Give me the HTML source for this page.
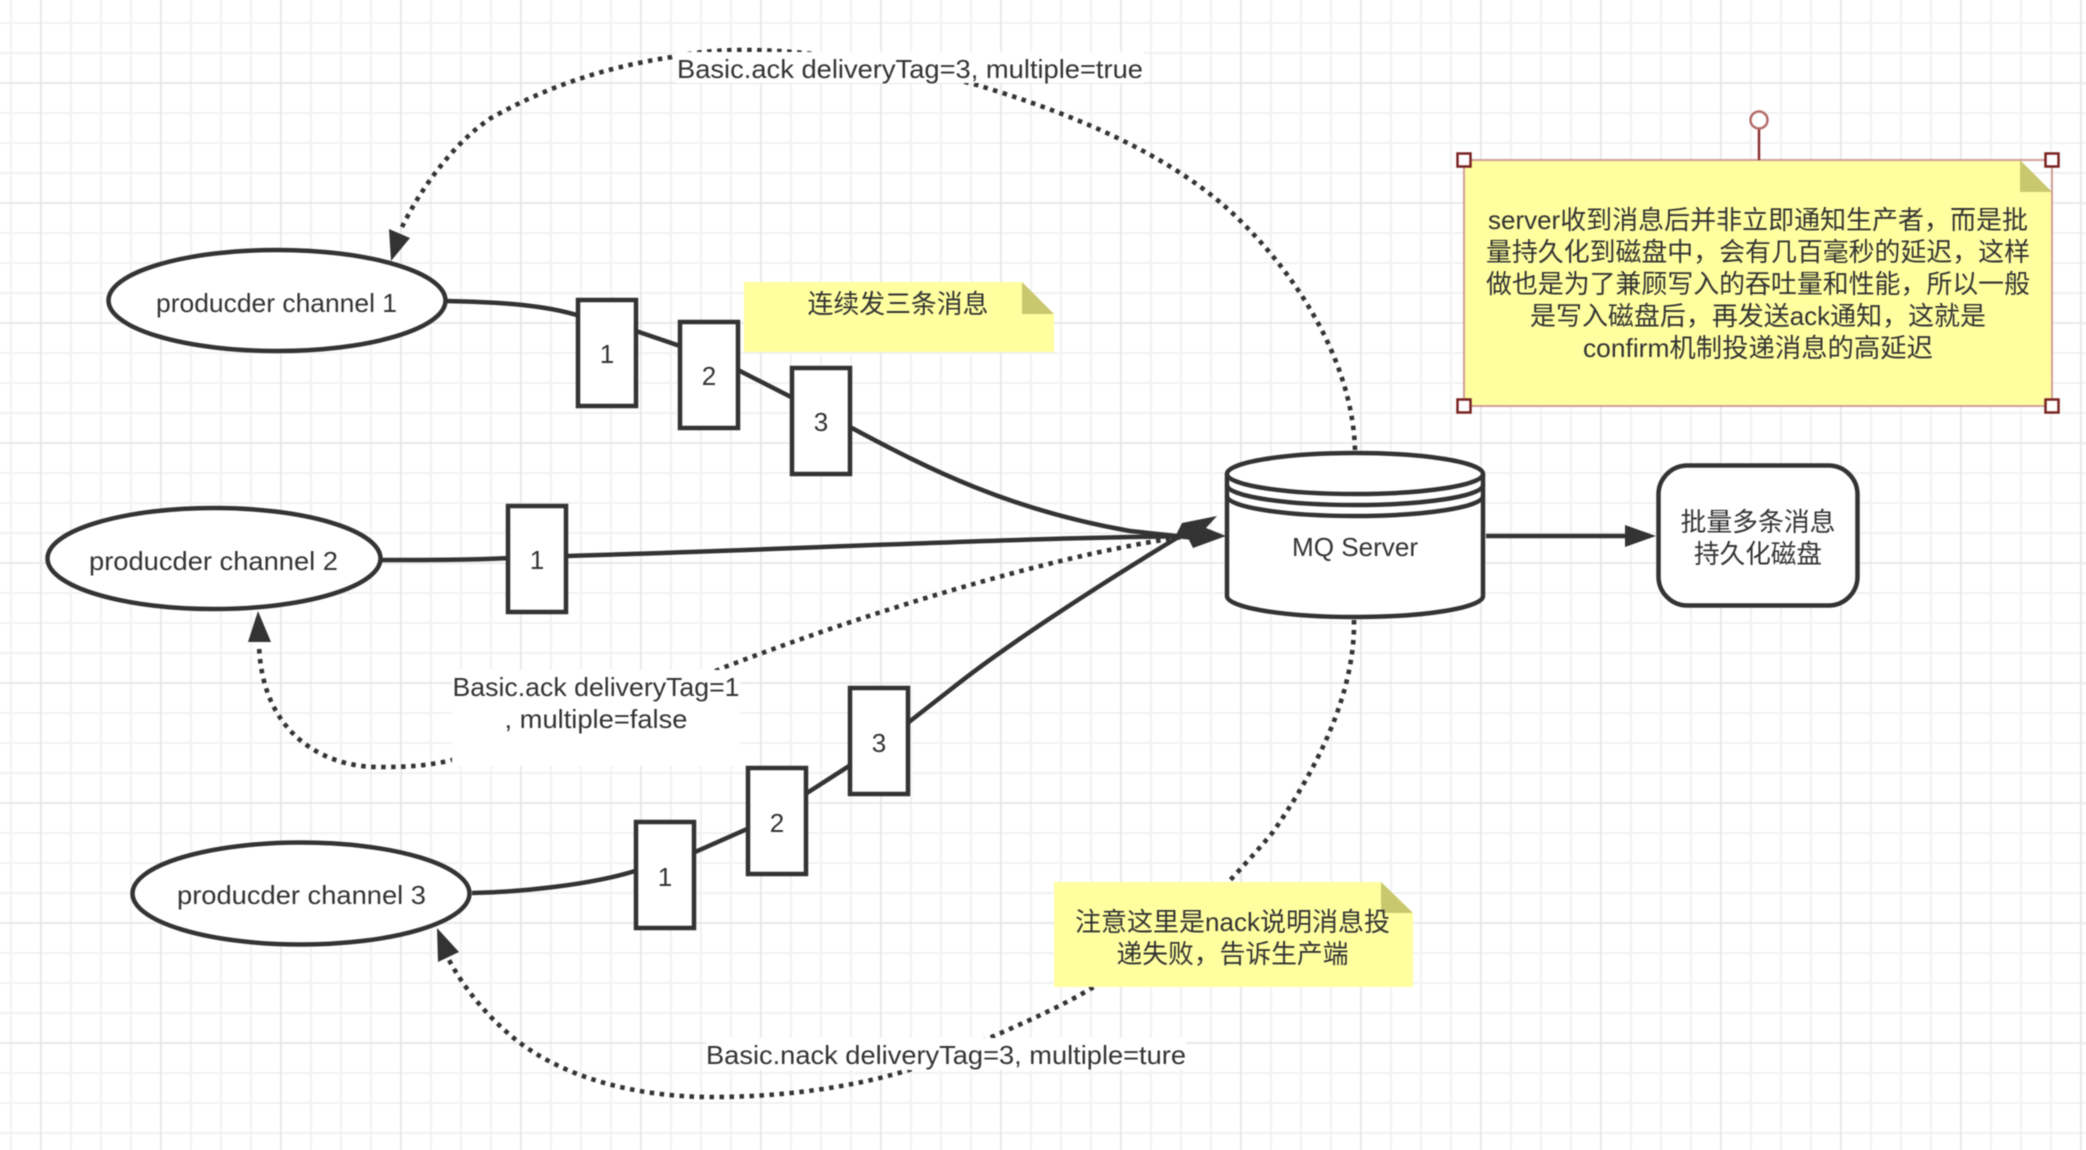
<!DOCTYPE html>
<html lang="zh">
<head>
<meta charset="utf-8">
<title>diagram</title>
<style>
html,body{margin:0;padding:0;background:#fff;width:2086px;height:1150px;overflow:hidden}
svg{display:block;filter:blur(.5px)}
text{font-family:"Liberation Sans","Noto Sans CJK SC",sans-serif;font-size:26px;fill:#333;text-anchor:middle}
.c{font-family:"Noto Sans CJK TC",sans-serif}
.d{fill:none;stroke:#333;stroke-width:4.6;stroke-dasharray:4.5 5.5}
.s{fill:none;stroke:#333;stroke-width:4.5}
.b{fill:#fff;stroke:#333;stroke-width:4.5}
.h{fill:#fff;stroke:#7a2222;stroke-width:2.5}
</style>
</head>
<body>
<svg xmlns="http://www.w3.org/2000/svg" width="2086" height="1150" viewBox="0 0 2086 1150">
<defs>
<pattern id="gm" x="10" y="22" width="30" height="30" patternUnits="userSpaceOnUse">
<path d="M0 0V30M0 0H30" stroke="#f2f2f2" stroke-width="4" fill="none"/>
</pattern>
<pattern id="gM" x="40" y="82" width="120" height="120" patternUnits="userSpaceOnUse">
<path d="M0 0V120M0 0H120" stroke="#e9e9e9" stroke-width="4" fill="none"/>
</pattern>
</defs>
<rect width="2086" height="1150" fill="#fff"/>
<rect width="2086" height="1150" fill="url(#gm)"/>
<rect width="2086" height="1150" fill="url(#gM)"/>

<!-- dotted -->
<path class="d" d="M1355 450C1353 370 1305 280 1229 210C1160 148 1060 110 977 85C900 65 820 50 743 50C715 50 690 53 672 57C600 68 545 88 491 118C455 142 422 186 402 227"/>
<polygon points="391,261 389,229 410,238" fill="#333"/>
<path class="d" d="M1190 536C1080 550 900 600 725 667L600 720L448 761C420 767 400 767 378 767C325 767 262 735 259 645"/>
<polygon points="258,611 248,642 271,642" fill="#333"/>
<path class="d" d="M1354 620C1355 680 1330 750 1273 832C1250 860 1220 890 1190 925C1180 930 1130 965 1092 988C1060 1007 1030 1020 994 1036C965 1048 940 1060 909 1070C850 1088 780 1097 712 1097C640 1097 570 1080 520 1043C490 1020 465 990 449 960"/>
<polygon points="437,928 438,962 459,952" fill="#333"/>

<!-- solid -->
<path class="s" d="M446 301C500 302 545 305 580 316L636 331L680 346C700 355 720 360 738 370L791 397L850 427C930 470 1010 510 1130 531L1195 538"/>
<path class="s" d="M381 560C430 560 470 560 510 558L567 556C780 550 1000 538 1200 536"/>
<path class="s" d="M472 893C520 892 590 885 635 871L695 852L747 829L807 793L849 766L909 722L950 690C1000 650 1090 590 1190 530"/>
<polygon points="1182,523 1217,516 1206,528 1226,536 1193,548 1186,534 1175,537" fill="#333"/>

<path class="s" d="M1486 536H1628"/>
<polygon points="1625,525 1656,536 1625,547" fill="#333"/>

<!-- ellipses -->
<ellipse class="b" cx="277" cy="300.500" rx="168.500" ry="50.500"/>
<ellipse class="b" cx="214" cy="558.500" rx="166.500" ry="50.500"/>
<ellipse class="b" cx="301" cy="893.500" rx="168.500" ry="51"/>
<text x="276.500" y="312" textLength="241" lengthAdjust="spacingAndGlyphs">producder channel 1</text>
<text x="213.500" y="570" textLength="249" lengthAdjust="spacingAndGlyphs">producder channel 2</text>
<text x="301.500" y="904" textLength="249" lengthAdjust="spacingAndGlyphs">producder channel 3</text>

<!-- message boxes -->
<rect class="b" x="578" y="300" width="58" height="106"/>
<rect class="b" x="680" y="322" width="58" height="106"/>
<rect class="b" x="792" y="368" width="58" height="106"/>
<rect class="b" x="508" y="506" width="58" height="106"/>
<rect class="b" x="636" y="822" width="58" height="106"/>
<rect class="b" x="748" y="768" width="58" height="106"/>
<rect class="b" x="850" y="688" width="58" height="106"/>
<text x="607" y="363">1</text>
<text x="709" y="385">2</text>
<text x="821" y="431">3</text>
<text x="537" y="569">1</text>
<text x="665" y="886">1</text>
<text x="777" y="832">2</text>
<text x="879" y="752">3</text>

<!-- cylinder -->
<path class="b" d="M1227 474A128 21 0 0 1 1483 474V596A128 21 0 0 1 1227 596Z"/>
<path class="s" d="M1227 474A128 20 0 0 0 1483 474M1227 485A128 20 0 0 0 1483 485M1227 496A128 20 0 0 0 1483 496"/>
<text x="1355" y="556" textLength="126" lengthAdjust="spacingAndGlyphs">MQ Server</text>

<!-- rounded -->
<rect class="b" x="1658.500" y="465.500" width="199" height="140" rx="29" ry="29"/>
<text x="1758" y="531" textLength="155" lengthAdjust="spacingAndGlyphs">批量多条消息</text>
<text x="1758" y="563" textLength="128" lengthAdjust="spacingAndGlyphs">持久化磁盘</text>

<!-- edge labels -->
<rect x="676" y="52" width="468" height="31" fill="#fff"/>
<text x="910" y="78" textLength="466" lengthAdjust="spacingAndGlyphs">Basic.ack deliveryTag=3, multiple=true</text>
<rect x="452" y="670" width="288" height="96" fill="#fff"/>
<text x="596" y="696" textLength="287" lengthAdjust="spacingAndGlyphs">Basic.ack deliveryTag=1</text>
<text x="596" y="728" textLength="183" lengthAdjust="spacingAndGlyphs">, multiple=false</text>
<rect x="706" y="1038" width="480" height="32" fill="#fff"/>
<text x="946" y="1064" textLength="480" lengthAdjust="spacingAndGlyphs">Basic.nack deliveryTag=3, multiple=ture</text>

<!-- note 1 -->
<polygon points="744,282 1022,282 1054,314 1054,352 744,352" fill="#ffffa0"/>
<polygon points="1022,282 1054,314 1022,314" fill="#c8c86e"/>
<text x="898" y="313" textLength="181" lengthAdjust="spacingAndGlyphs">连续发三条消息</text>

<!-- note 2 -->
<polygon points="1054,882 1381,882 1413,913 1413,987 1054,987" fill="#ffffa0"/>
<polygon points="1381,882 1413,913 1381,913" fill="#c8c86e"/>
<text x="1232.500" y="931" textLength="315" lengthAdjust="spacingAndGlyphs">注意这里是nack说明消息投</text>
<text x="1232.500" y="963" textLength="232" lengthAdjust="spacingAndGlyphs">递失败<tspan class="c">，</tspan>告诉生产端</text>

<!-- selected note -->
<polygon points="1464,160 2020,160 2052,192 2052,406 1464,406" fill="#ffffa0"/>
<polygon points="2020,160 2052,192 2020,192" fill="#c8c86e"/>
<rect x="1464" y="160" width="588" height="246" fill="none" stroke="#d0a098" stroke-width="2"/>
<text x="1758" y="229" textLength="540" lengthAdjust="spacingAndGlyphs">server收到消息后并非立即通知生产者<tspan class="c">，</tspan>而是批</text>
<text x="1758" y="261" textLength="544" lengthAdjust="spacingAndGlyphs">量持久化到磁盘中<tspan class="c">，</tspan>会有几百毫秒的延迟<tspan class="c">，</tspan>这样</text>
<text x="1758" y="293" textLength="544" lengthAdjust="spacingAndGlyphs">做也是为了兼顾写入的吞吐量和性能<tspan class="c">，</tspan>所以一般</text>
<text x="1758" y="325" textLength="456" lengthAdjust="spacingAndGlyphs">是写入磁盘后<tspan class="c">，</tspan>再发送ack通知<tspan class="c">，</tspan>这就是</text>
<text x="1758" y="357" textLength="350" lengthAdjust="spacingAndGlyphs">confirm机制投递消息的高延迟</text>
<path d="M1759 129V160" stroke="#8a3030" stroke-width="2.500" fill="none"/>
<circle cx="1759" cy="120" r="8.500" fill="#fff" stroke="#b56a6a" stroke-width="2.500"/>
<rect class="h" x="1457.500" y="153.500" width="13" height="13"/>
<rect class="h" x="2045.500" y="153.500" width="13" height="13"/>
<rect class="h" x="1457.500" y="399.500" width="13" height="13"/>
<rect class="h" x="2045.500" y="399.500" width="13" height="13"/>
</svg>
</body>
</html>
